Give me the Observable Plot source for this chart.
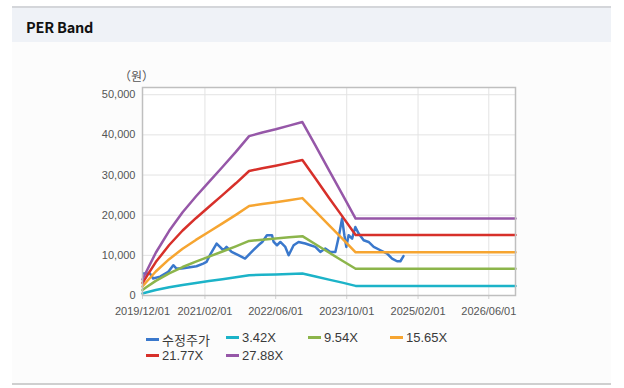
<!DOCTYPE html>
<html>
<head>
<meta charset="utf-8">
<script src="https://cdn.jsdelivr.net/npm/d3@7"></script>
<script src="https://cdn.jsdelivr.net/npm/@observablehq/plot@0.6"></script>
<style>
  html, body { margin: 0; padding: 0; background: #ffffff; }
  body { width: 624px; height: 388px; position: relative; overflow: hidden;
         font-family: "Liberation Sans", Arial, "Noto Sans CJK KR", sans-serif; }
  #box { position: absolute; left: 12px; top: 6px; width: 599px; height: 375px;
         border-top: 2px solid #d4d6da; border-bottom: 2px solid #cfcfcf; background: #fcfcfc; }
  #head { position: absolute; left: 0; top: 0; width: 100%; height: 34px; background: #eff2f7; }
  #title { position: absolute; left: 14px; top: 8px; font-size: 14.5px; font-weight: bold; color: #111;
           font-family: "Noto Sans CJK KR", "Liberation Sans", sans-serif; letter-spacing: -0.2px; }
  #chart { position: absolute; left: 0; top: 40px; }
  .lg { position: absolute; display: flex; align-items: center; font-size: 13px; color: #3a3a3a;
        font-family: "Liberation Sans", Arial, "Noto Sans CJK KR", sans-serif; }
  .lg span.sw { display: inline-block; width: 13px; height: 3px; margin-right: 3px; }
</style>
</head>
<body>
<div id="box"><div id="head"><div id="title">PER Band</div></div></div>
<div id="chart"></div>
<div id="legend"></div>
<script>
// ---- data ----
const seriesNames = ["수정주가", "3.42X", "9.54X", "15.65X", "21.77X", "27.88X"];
const seriesColors = ["#3a78cc", "#1cb3c8", "#8cb54b", "#f6a531", "#d7302a", "#9657a8"];

const xTicks = ["2019-12-01", "2021-02-01", "2022-06-01", "2023-10-01", "2025-02-01", "2026-06-01"];
const yTicks = [0, 10000, 20000, 30000, 40000, 50000];

const bandDates = ["2019-12-01","2020-01-01","2020-03-01","2020-06-01","2020-09-01","2020-12-01",
  "2021-03-01","2021-06-01","2021-09-01","2021-12-01","2022-03-01","2022-06-01","2022-09-01",
  "2022-12-01","2023-03-01","2023-06-01","2023-09-01","2023-12-01","2026-12-01"];
const band342 = [510, 800, 1350, 2040, 2630, 3130, 3590, 4060, 4540, 5040, 5160, 5260, 5370, 5490, 4740, 3960, 3200, 2390, 2390];
const band954 = [1370, 2160, 3640, 5510, 7090, 8440, 9680, 10950, 12240, 13590, 13890, 14170, 14480, 14780, 12760, 10700, 8660, 6650, 6650];
const band1565 = [2250, 3540, 5980, 9040, 11640, 13840, 15880, 17960, 20080, 22280, 22790, 23240, 23740, 24250, 20940, 17510, 14140, 10760, 10760];
const band2177 = [3120, 4920, 8320, 12570, 16190, 19250, 22100, 24990, 27940, 31000, 31700, 32330, 33030, 33730, 29120, 24360, 19700, 15050, 15050];
const band2788 = [4000, 6300, 10650, 16100, 20730, 24650, 28300, 32000, 35770, 39700, 40600, 41400, 42300, 43200, 37300, 31200, 25200, 19150, 19150];

const priceDates = ["2019-12-06","2020-01-21","2020-02-12","2020-03-31","2020-05-25","2020-06-29",
  "2020-07-21","2020-08-25","2020-10-10","2020-12-05","2021-01-20","2021-02-12","2021-03-07",
  "2021-04-22","2021-05-15","2021-06-07","2021-06-29","2021-08-03","2021-09-18","2021-11-03",
  "2021-12-18","2022-02-02","2022-03-01","2022-04-02","2022-05-07","2022-05-18","2022-06-10",
  "2022-07-03","2022-08-06","2022-08-29","2022-10-02","2022-11-05","2022-12-21","2023-01-25",
  "2023-02-28","2023-04-03","2023-05-07","2023-06-11","2023-07-15","2023-08-07","2023-08-30",
  "2023-09-15","2023-09-28","2023-10-14","2023-11-07","2023-11-29","2023-12-22","2024-01-25",
  "2024-02-28","2024-04-03","2024-05-19","2024-07-04","2024-08-07","2024-09-10","2024-10-03",
  "2024-10-24"];
const priceValues = [5470, 5470, 4230, 4700, 5870, 7540,
  6720, 6720, 6970, 7290, 7960, 8360, 10030,
  12940, 12100, 11270, 12100, 10850, 10030, 9200,
  10850, 12510, 13330, 15000, 15000, 13330, 12510,
  13330, 12100, 10030, 12510, 13330, 12940, 12510,
  12100, 10850, 11690, 10850, 10850, 14580, 19150,
  15000, 12100, 15000, 14180, 17060, 15420, 13760,
  13330, 12100, 11270, 10450, 9200, 8530, 8530,
  9800];

// ---- build table ----
const parse = d3.utcParse("%Y-%m-%d");
const rows = [];
priceDates.forEach((d, i) => rows.push({date: parse(d), value: priceValues[i], series: seriesNames[0]}));
const bands = [band342, band954, band1565, band2177, band2788];
bands.forEach((vals, k) => bandDates.forEach((d, i) =>
  rows.push({date: parse(d), value: vals[i], series: seriesNames[k + 1]})));

const color = d3.scaleOrdinal(seriesNames, seriesColors);

const chart = Plot.plot({
  width: 624,
  height: 290,
  marginLeft: 142,
  marginRight: 109,
  marginTop: 47,
  marginBottom: 35,
  style: {fontFamily: "'Liberation Sans', Arial, sans-serif", fontSize: "11px", color: "#555", background: "transparent", overflow: "visible"},
  x: {type: "utc", domain: [parse("2019-12-01"), parse("2026-12-01")], label: null},
  y: {domain: [0, 51800], label: null},
  marks: [
    Plot.frame({fill: "#ffffff", stroke: "none"}),
    Plot.gridX(xTicks.map(parse), {stroke: "#e3e3e3", strokeOpacity: 1, strokeWidth: 1}),
    Plot.gridY(yTicks, {stroke: "#e3e3e3", strokeOpacity: 1, strokeWidth: 1}),
    Plot.axisX(xTicks.map(parse), {tickFormat: d3.utcFormat("%Y/%m/%d"), tickSize: 4, tickPadding: 8, stroke: "#d0d0d0", fill: "#555", fontSize: 11, label: null}),
    Plot.axisY(yTicks, {tickFormat: d3.format(","), tickSize: 0, tickPadding: 7, fill: "#555", fontSize: 11, label: null}),
    Plot.line(rows, {x: "date", y: "value", z: "series", stroke: d => color(d.series), strokeWidth: 2.5, curve: "linear"}),
    Plot.frame({stroke: "#bfbfbf", strokeWidth: 1.5}),
    Plot.text(["（원）"], {frameAnchor: "top-left", dx: -6, dy: -15, textAnchor: "middle", fontSize: 12, fill: "#555", fontFamily: "'Noto Sans CJK KR', sans-serif"})
  ]
});
document.getElementById("chart").appendChild(chart);

// ---- legend ----
const legendPos = [[146, 339], [226, 339], [308, 339], [390, 339], [146, 357], [226, 357]];
const lg = document.getElementById("legend");
seriesNames.forEach((name, i) => {
  const el = document.createElement("div");
  el.className = "lg";
  el.style.left = legendPos[i][0] + "px";
  el.style.top = (legendPos[i][1] - 9) + "px";
  el.innerHTML = `<span class="sw" style="background:${seriesColors[i]}"></span><span>${name}</span>`;
  lg.appendChild(el);
});
</script>
</body>
</html>
